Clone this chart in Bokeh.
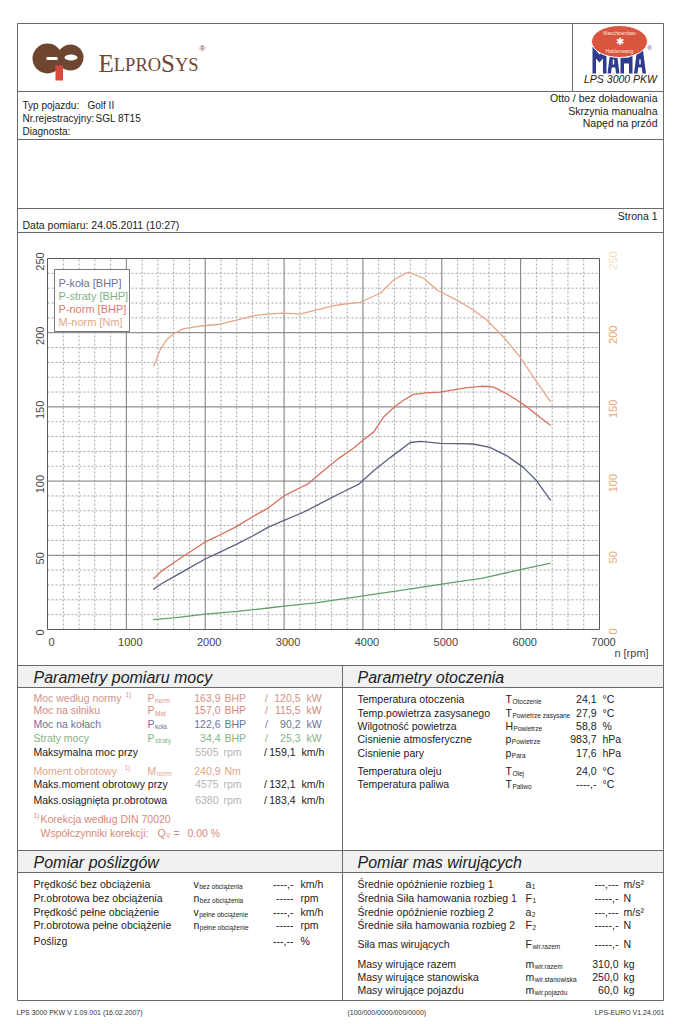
import math
from collections import OrderedDict
from bokeh.plotting import figure
from bokeh.models import Range1d
from bokeh.core.properties import value
from bokeh.embed import file_html
from bokeh.resources import INLINE

# ---------------- chart data ----------------
rpm_ticks = [0, 1000, 2000, 3000, 4000, 5000, 6000, 7000]
val_ticks = [0, 50, 100, 150, 200, 250]
rpm_minor = 200
val_minor = 10

p_kola_rpm = [1340, 1450, 1600, 1800, 2000, 2200, 2400, 2600, 2800, 3000, 3200, 3300, 3500, 3700,
              3950, 4135, 4350, 4600, 4730, 4980, 5200, 5400, 5610, 5820, 6030, 6200, 6380]
p_kola = [27.0, 31.0, 35.5, 41.5, 47.5, 52.5, 57.5, 63.0, 69.0, 73.5, 78.0, 80.5, 86.0, 91.5,
          98.0, 107.0, 116.0, 126.0, 126.7, 125.4, 125.3, 125.0, 122.7, 117.2, 109.4, 100.4, 87.0]

p_straty_rpm = [1340, 1600, 2000, 2400, 2800, 3000, 3400, 3700, 4135, 4500, 4980, 5300, 5505, 5620, 6000, 6380]
p_straty = [6.7, 7.8, 10.3, 12.2, 14.5, 15.7, 18.0, 20.3, 23.7, 26.5, 30.4, 33.0, 34.4, 35.8, 40.4, 44.7]

p_norm_rpm = [1340, 1450, 1600, 1800, 2000, 2200, 2400, 2600, 2800, 3000, 3200, 3300, 3500, 3700, 3900,
              4000, 4135, 4260, 4400, 4515, 4640, 4800, 4980, 5150, 5320, 5505, 5650, 5820, 6000, 6080,
              6245, 6380]
p_norm = [34.0, 39.5, 45.0, 52.0, 59.0, 64.0, 69.5, 76.0, 82.0, 90.0, 95.5, 98.0, 107.0, 115.5, 123.0,
          127.5, 133.0, 143.0, 150.0, 154.5, 158.5, 159.5, 160.0, 161.5, 163.0, 163.9, 163.5, 159.0, 153.0,
          150.0, 143.0, 137.5]

m_norm_rpm = [1345, 1430, 1515, 1600, 1725, 1940, 2190, 2360, 2610, 2780, 2990, 3200, 3455, 3625, 3715,
              3965, 4220, 4390, 4575, 4770, 4940, 5190, 5400, 5570, 5780, 5990, 6160, 6380]
m_norm = [177.3, 188.6, 195.5, 199.3, 202.7, 204.5, 205.7, 208.0, 211.4, 212.5, 213.2, 212.5, 215.9, 218.0,
          219.0, 220.5, 226.6, 235.6, 240.9, 236.7, 228.8, 222.0, 215.3, 208.6, 197.3, 183.8, 170.3, 153.4]

legend_labels = ["P-koła [BHP]", "P-straty [BHP]", "P-norm [BHP]", "M-norm [Nm]"]

# ---------------- document text data ----------------
header_left = ["Typ pojazdu:", "Nr.rejestracyjny:", "Diagnosta:"]
header_left_vals = ["Golf II", "SGL 8T15", ""]
header_right = ["Otto / bez doładowania", "Skrzynia manualna", "Napęd na przód"]
date_text = "Data pomiaru: 24.05.2011 (10:27)"
page_text = "Strona 1"

power_labels = ["Moc według normy", "Moc na silniku", "Moc na kołach", "Straty mocy"]
power_sym = [("P", "norm"), ("P", "Mot"), ("P", "koła"), ("P", "straty")]
power_bhp = ["163,9", "157,0", "122,6", "34,4"]
power_kw = ["120,5", "115,5", "90,2", "25,3"]

speed_labels = ["Maksymalna moc przy", "Maks.moment obrotowy przy", "Maks.osiągnięta pr.obrotowa"]
speed_rpm = ["5505", "4575", "6380"]
speed_kmh = ["159,1", "132,1", "183,4"]
torque_label = "Moment obrotowy"
torque_val = "240,9"

amb_labels = ["Temperatura otoczenia", "Temp.powietrza zasysanego", "Wilgotność powietrza",
              "Cisnienie atmosferyczne", "Cisnienie pary", "Temperatura oleju", "Temperatura paliwa"]
amb_sym = [("T", "Otoczenie"), ("T", "Powietrze zasysane"), ("H", "Powietrze"), ("p", "Powietrze"),
           ("p", "Para"), ("T", "Olej"), ("T", "Paliwo")]
amb_vals = ["24,1", "27,9", "58,8", "983,7", "17,6", "24,0", "----,-"]
amb_units = ["°C", "°C", "%", "hPa", "hPa", "°C", "°C"]

slip_labels = ["Prędkość bez obciążenia", "Pr.obrotowa bez obciążenia", "Prędkość pełne obciążenie",
               "Pr.obrotowa pełne obciążenie", "Poślizg"]
slip_sym = [("v", "bez obciążenia"), ("n", "bez obciążenia"), ("v", "pełne obciążenie"),
            ("n", "pełne obciążenie"), None]
slip_vals = ["----,-", "-----", "----,-", "-----", "---,--"]
slip_units = ["km/h", "rpm", "km/h", "rpm", "%"]

mass_labels = ["Średnie opóźnienie rozbieg 1", "Średnia Siła hamowania rozbieg 1", "Średnie opóźnienie rozbieg 2",
               "Średnie siła hamowania rozbieg 2", "Siła mas wirujących", "Masy wirujące razem",
               "Masy wirujące stanowiska", "Masy wirujące pojazdu"]
mass_sym = [("a", "1"), ("F", "1"), ("a", "2"), ("F", "2"), ("F", "wir.razem"), ("m", "wir.razem"),
            ("m", "wir.stanowiska"), ("m", "wir.pojazdu")]
mass_vals = ["---,---", "-----,-", "---,---", "-----,-", "-----,-", "310,0", "250,0", "60,0"]
mass_units = ["m/s²", "N", "m/s²", "N", "N", "kg", "kg", "kg"]

footer = ["LPS 3000 PKW V 1.09.001 (16.02.2007)", "(100/000/0000/000/0000)", "LPS-EURO V1.24.001"]

# ---------------- layout / style ----------------
SANS = "Liberation Sans"
SERIF = "Liberation Serif"
PAGE_W, PAGE_H, OFF = 677, 1020, 0
CX0, CX1, CY0, CY1 = 47, 599, 629, 258      # chart frame in page pixels

C_KOLA, C_STRATY, C_NORM, C_MNORM = "#59607e", "#62a06a", "#d5705a", "#e6a68a"
LEG_COLORS = ["#6b7391", "#7fb087", "#d97c6c", "#e3a587"]
LINE = "#6a6a6a"
INK = "#222222"
GRAY = "#b5b5b5"
FS = 10.5    # table label size
FV = 10.5    # table value size

p = figure(width=PAGE_W, height=PAGE_H, output_backend="svg", toolbar_location=None,
           x_range=Range1d(OFF, OFF + PAGE_W), y_range=Range1d(OFF + PAGE_H, OFF),
           x_axis_location=None, y_axis_location=None, min_border=0,
           outline_line_color=None, background_fill_color="white", border_fill_color="white")
p.grid.visible = False

kx = (rpm_ticks[-1] - rpm_ticks[0]) / (CX1 - CX0)
ky = (val_ticks[-1] - val_ticks[0]) / (CY0 - CY1)
p.extra_x_ranges = {"rpm": Range1d(rpm_ticks[0] - (CX0 - OFF) * kx, rpm_ticks[-1] + (OFF + PAGE_W - CX1) * kx)}
p.extra_y_ranges = {"val": Range1d(val_ticks[0] - (OFF + PAGE_H - CY0) * ky, val_ticks[-1] + (CY1 - OFF) * ky)}
CH = dict(x_range_name="rpm", y_range_name="val")

# title band fills
p.quad(left=[17, 17], right=[663, 663], top=[665, 850], bottom=[687, 872],
       fill_color="#f1f1f1", line_color=None)

# ---------------- chart grid ----------------
r0, r1 = rpm_ticks[0], rpm_ticks[-1]
v0, v1 = val_ticks[0], val_ticks[-1]
minor_r = [r for r in range(r0, r1 + 1, rpm_minor) if r not in rpm_ticks]
minor_v = [v for v in range(v0, v1 + 1, val_minor) if v not in val_ticks]
p.multi_line(xs=[[r, r] for r in minor_r], ys=[[v0, v1] for _ in minor_r],
             line_color="#8e8e8e", line_width=0.8, line_dash="2 2", **CH)
p.multi_line(xs=[[r0, r1] for _ in minor_v], ys=[[v, v] for v in minor_v],
             line_color="#8e8e8e", line_width=0.8, line_dash="2 2", **CH)
p.multi_line(xs=[[r, r] for r in rpm_ticks[1:-1]], ys=[[v0, v1] for _ in rpm_ticks[1:-1]],
             line_color="#777777", line_width=1, **CH)
p.multi_line(xs=[[r0, r1] for _ in val_ticks[1:-1]], ys=[[v, v] for v in val_ticks[1:-1]],
             line_color="#777777", line_width=1, **CH)
p.quad(left=[r0], right=[r1], bottom=[v0], top=[v1], fill_color=None, line_color="#5a5a5a", line_width=1, **CH)

# ---------------- curves ----------------
p.line(m_norm_rpm, m_norm, line_color=C_MNORM, line_width=1.3, **CH)
p.line(p_norm_rpm, p_norm, line_color=C_NORM, line_width=1.3, **CH)
p.line(p_kola_rpm, p_kola, line_color=C_KOLA, line_width=1.3, **CH)
p.line(p_straty_rpm, p_straty, line_color=C_STRATY, line_width=1.3, **CH)

# legend box
p.quad(left=[54], right=[129], top=[269], bottom=[331], fill_color="white", line_color="#777777", line_width=1)

# ---------------- text machinery ----------------
texts = []


def T(x, y, s, size=FS, color=INK, align="left", style="normal", font=SANS, baseline="middle",
      angle=0.0, xr="default", yr="default", xo=0, yo=0):
    texts.append(((size, color, align, style, font, baseline, angle, xr, yr, xo, yo), x, y, s))


SYM_W = {"P": 0.667, "M": 0.833, "T": 0.611, "H": 0.722, "p": 0.556, "v": 0.5, "n": 0.556,
         "a": 0.556, "F": 0.611, "m": 0.833}


def SYM(x, y, main, sub, color=INK, size=FS):
    T(x, y, main, size, color)
    T(x + SYM_W[main] * size + 0.5, y + 3, sub, 6.5, color)


# legend texts
for lab, col, yy in zip(legend_labels, LEG_COLORS, [282, 295, 308, 321]):
    T(58, yy, lab, 11, col)

# axis labels
for r in rpm_ticks:
    T(r, 641, str(r), 11, "#444444", "center", xr="rpm", xo=4)
T(631, 652, "n [rpm]", 11, "#444444", "center")
for v in val_ticks:
    T(39, v, str(v), 11, "#444444", "center", angle=math.pi / 2, yr="val", yo=3)
    T(612, v, str(v), 11, "#f2dcc0" if v == val_ticks[-1] else "#e6a870", "center",
      angle=math.pi / 2, yr="val", yo=2)

# ---------------- header: ElproSys logo ----------------
BROWN = "#6e4630"
p.ellipse(x=[47], y=[58], width=30, height=30, fill_color=BROWN, line_color=None)
p.quad(left=[46], right=[63], top=[56.5], bottom=[59.5], fill_color="white", line_color=None)
p.ellipse(x=[70], y=[57], width=26, height=26, fill_color=BROWN, line_color=None)
p.ellipse(x=[70.5], y=[57], width=13, height=6, fill_color="white", line_color=None)
p.quad(left=[55], right=[62.5], top=[65], bottom=[80], fill_color="#d8483c", line_color=None)

BASE = 71
for txt, xx, sz in [("E", 98, 25), ("LPRO", 113.3, 18.5), ("S", 160.6, 25), ("YS", 174.5, 18.5)]:
    T(xx, BASE - 0.3375 * sz, txt, sz, BROWN, font=SERIF)
T(202, 48, "®", 8, BROWN, "center")

# ---------------- header: MAHA logo (block letters, red eye on top) ----------------
BLUE = "#2f3b8e"
m_x = [592, 592, 599, 606, 606, 602.5, 602.5, 599, 595.5, 595.5]
m_y = [73, 46, 54, 46, 73, 73, 58, 62, 58, 73]
a_x = [0, 3.5, 8.5, 12, 8.5, 7.8, 4.2, 3.5]
a_y = [73, 46, 46, 73, 73, 67, 67, 73]
h_x = [620, 620, 623.5, 623.5, 628.5, 628.5, 632, 632, 628.5, 628.5, 623.5, 623.5]
h_y = [73, 46, 46, 57, 57, 46, 46, 73, 73, 63, 63, 73]
p.patches(xs=[m_x, [607 + d for d in a_x], h_x, [633.5 + d for d in a_x]],
          ys=[m_y, a_y, h_y, a_y], fill_color=BLUE, line_color=None)
p.quad(left=[612.3, 638.8], right=[613.7, 640.2], top=[59, 59], bottom=[64, 64],
       fill_color="white", line_color=None)
p.ellipse(x=[619], y=[41], width=56, height=32, fill_color="#d9553f", line_color="white", line_width=1)
p.text(x=[619, 619], y=[32, 50], text=["Maschinenbau", "Haldenwang"],
       text_font=value(SANS), text_font_size="5px", text_color="#ffe6d8",
       text_align="center", text_baseline="middle")
p.text(x=[619], y=[41], text=["✱"], text_font=value(SANS), text_font_size="10px",
       text_color="white", text_align="center", text_baseline="middle")
T(649, 47, "®", 6, BLUE, "center")
T(620, 78, "LPS 3000 PKW", 10.5, INK, "center", style="italic")

# ---------------- header texts ----------------
for lab, yy in zip(header_left, [105, 118, 131]):
    T(22, yy, lab, 10)
for val, xx, yy in zip(header_left_vals, [87, 95, 0], [105, 118, 131]):
    if val:
        T(xx, yy, val, 10)
for lab, yy in zip(header_right, [97, 110, 122]):
    T(657, yy, lab, 10.5, align="right")
T(22, 224, date_text, 10.5)
T(657, 215, page_text, 10.5, align="right")

# ---------------- table 1: Parametry pomiaru mocy ----------------
T(33, 677, "Parametry pomiaru mocy", 16, INK, style="italic")
P_COLORS = ["#d4948a", "#d4887e", "#6c7494", "#86b486"]
for lab, (m, s), bhp, kw, col, yy in zip(power_labels, power_sym, power_bhp, power_kw, P_COLORS,
                                          [697, 709.5, 723, 737]):
    T(33, yy, lab, FS, col)
    SYM(147, yy, m, s, col)
    T(220, yy, bhp, FV, col, "right")
    T(224, yy, "BHP", FV, col)
    T(266, yy, "/", FV, col, "center")
    T(300, yy, kw, FV, col, "right")
    T(306, yy, "kW", FV, col)
T(125, 694, "1)", 6.5, P_COLORS[0])
TQ = "#e4a48a"
T(33, 770, torque_label, FS, TQ)
T(124, 767, "1)", 6.5, TQ)
SYM(147, 770, "M", "norm", TQ)
T(220, 770, torque_val, FV, TQ, "right")
T(224, 770, "Nm", FV, TQ)
for lab, rv, kv, yy in zip(speed_labels, speed_rpm, speed_kmh, [751, 783, 799]):
    T(33, yy, lab, FS, INK)
    T(218, yy, rv, FV, GRAY, "right")
    T(223, yy, "rpm", FV, GRAY)
    T(265, yy, "/", FV, INK, "center")
    T(295, yy, kv, FV, INK, "right")
    T(301, yy, "km/h", FV, INK)
KC = "#d88a7a"
T(33, 815, "1)", 6.5, KC)
T(40, 818, "Korekcja według DIN 70020", FS, KC)
T(40, 832, "Współczynniki korekcji:", FS, KC)
T(157, 832, "Q", FS, KC)
T(165.5, 835, "V", 6.5, KC)
T(173, 832, "=", FS, KC)
T(187, 832, "0.00 %", FS, KC)

# ---------------- table 2: Parametry otoczenia ----------------
T(357, 677, "Parametry otoczenia", 16, INK, style="italic")
for lab, (m, s), v, u, yy in zip(amb_labels, amb_sym, amb_vals, amb_units, [698, 712, 725, 738, 752, 770, 783]):
    T(357, yy, lab, FS)
    SYM(505, yy, m, s)
    T(596, yy, v, FV, INK, "right")
    T(602, yy, u, FV)

# ---------------- table 3: Pomiar poślizgów ----------------
T(33, 862, "Pomiar poślizgów", 16, INK, style="italic")
for lab, sym, v, u, yy in zip(slip_labels, slip_sym, slip_vals, slip_units, [883, 897, 911, 924, 940]):
    T(33, yy, lab, FS)
    if sym:
        SYM(193, yy, sym[0], sym[1])
    T(293, yy, v, FV, INK, "right")
    T(300, yy, u, FV)

# ---------------- table 4: Pomiar mas wirujących ----------------
T(357, 862, "Pomiar mas wirujących", 16, INK, style="italic")
for lab, (m, s), v, u, yy in zip(mass_labels, mass_sym, mass_vals, mass_units,
                                  [883, 897, 911, 924, 943, 963, 976, 989]):
    T(357, yy, lab, FS)
    SYM(525, yy, m, s)
    T(618, yy, v, FV, INK, "right")
    T(623, yy, u, FV)

# ---------------- footer ----------------
T(16, 1012, footer[0], 7, "#333333")
T(347, 1012, footer[1], 7, "#333333")
T(664, 1012, footer[2], 7, "#333333", "right")

# ---------------- page rules ----------------
h_rules = [23, 91, 139, 208, 232, 665, 687, 850, 872, 1000]
p.segment(x0=[17] * len(h_rules), x1=[663] * len(h_rules), y0=h_rules, y1=h_rules,
          line_color=LINE, line_width=1)
v_rules = [(17, 23, 1000), (663, 23, 1000), (572, 23, 91), (342, 665, 1000)]
p.segment(x0=[v[0] for v in v_rules], x1=[v[0] for v in v_rules],
          y0=[v[1] for v in v_rules], y1=[v[2] for v in v_rules], line_color=LINE, line_width=1)

# ---------------- flush texts ----------------
groups = OrderedDict()
for key, x, y, s in texts:
    g = groups.setdefault(key, ([], [], []))
    g[0].append(x)
    g[1].append(y)
    g[2].append(s)
for key, (xs, ys, ss) in groups.items():
    size, color, align, style, font, baseline, angle, xr, yr, xo, yo = key
    p.text(x=xs, y=ys, text=ss, text_font=value(font), text_font_size=f"{size}px",
           text_color=color, text_align=align, text_baseline=baseline, text_font_style=style,
           angle=angle, x_offset=xo, y_offset=yo, x_range_name=xr, y_range_name=yr)

open("out.html", "w").write(file_html(p, INLINE))
